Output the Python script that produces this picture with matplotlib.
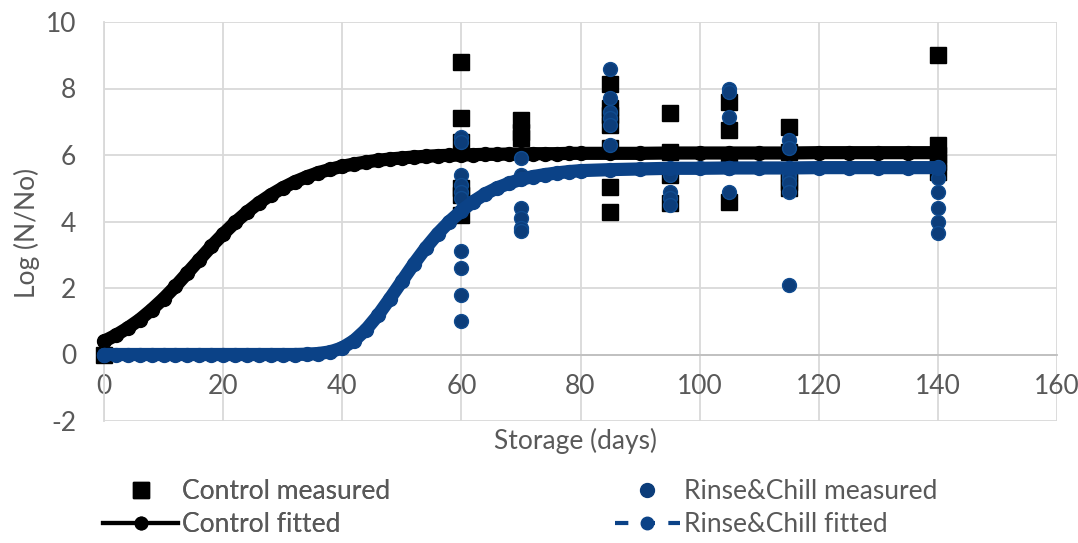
import matplotlib
matplotlib.use('Agg')
import matplotlib.pyplot as plt
from matplotlib.lines import Line2D

plt.rcParams['font.family'] = ['Lato', 'DejaVu Sans']
plt.rcParams['axes.unicode_minus'] = False

# Measured points (day, log N/No)
control_days = [0, 60, 60, 60, 60, 60, 60, 70, 70, 70, 85, 85, 85, 85, 85, 85, 85,
                95, 95, 95, 95, 105, 105, 105, 105, 115, 115, 115, 115, 115,
                140, 140, 140, 140, 140]
control_logs = [0.0, 8.8, 7.1, 6.4, 5.0, 4.8, 4.2, 7.05, 6.7, 6.5, 8.15, 7.4, 7.2, 6.9, 6.2, 5.05, 4.3,
                7.25, 6.1, 5.4, 4.55, 7.6, 6.75, 5.9, 4.6, 6.85, 6.1, 5.5, 5.2, 5.0,
                9.0, 6.3, 6.0, 5.8, 5.5]

rinse_days = [0, 60, 60, 60, 60, 60, 60, 60, 60, 60, 60,
              70, 70, 70, 70, 70, 70,
              85, 85, 85, 85, 85, 85,
              95, 95, 95, 95,
              105, 105, 105, 105, 105,
              115, 115, 115, 115, 115, 115, 115, 115,
              140, 140, 140, 140, 140, 140]
rinse_logs = [0.0, 6.55, 6.4, 5.4, 5.1, 4.9, 4.7, 3.1, 2.6, 1.8, 1.0,
              5.9, 5.4, 4.4, 4.1, 3.8, 3.7,
              8.6, 7.7, 7.3, 7.1, 6.9, 6.3,
              5.4, 4.9, 4.7, 4.5,
              8.0, 7.9, 7.15, 5.6, 4.9,
              6.45, 6.2, 5.6, 5.4, 5.3, 5.15, 4.9, 2.1,
              5.65, 5.3, 4.9, 4.4, 4.0, 3.65]

# Fitted curves
fit_days = [0, 2, 4, 6, 8, 10, 12, 14, 16, 18, 20, 22, 24, 26, 28, 30, 32, 34, 36, 38,
            40, 42, 44, 46, 48, 50, 52, 54, 56, 58, 60, 62, 64, 66, 68, 70, 72, 74, 76, 78,
            80, 85, 90, 95, 100, 105, 110, 115, 120, 125, 130, 135, 140]
control_fit = [0.40, 0.58, 0.80, 1.05, 1.35, 1.68, 2.05, 2.45, 2.85, 3.25, 3.62, 3.97, 4.28,
               4.56, 4.80, 5.01, 5.19, 5.34, 5.47, 5.57, 5.66, 5.73, 5.79, 5.84, 5.88, 5.91,
               5.94, 5.96, 5.98, 5.99, 6.00, 6.01, 6.02, 6.02, 6.03, 6.03, 6.04, 6.04, 6.04,
               6.05, 6.05, 6.05, 6.05, 6.06, 6.06, 6.06, 6.06, 6.06, 6.07, 6.07, 6.07, 6.07, 6.07]
rinse_fit = [0.0, 0.0, 0.0, 0.0, 0.0, 0.0, 0.0, 0.0, 0.0, 0.0, 0.0, 0.0, 0.0, 0.0, 0.0, 0.0,
             0.0, 0.01, 0.03, 0.08, 0.2, 0.42, 0.75, 1.18, 1.68, 2.2, 2.72, 3.2, 3.63, 4.0,
             4.32, 4.6, 4.83, 5.01, 5.15, 5.27, 5.35, 5.41, 5.46, 5.5, 5.53, 5.56, 5.58,
             5.6, 5.6, 5.61, 5.61, 5.61, 5.62, 5.62, 5.62, 5.62, 5.62]

blue = '#0c3d7a'
blue_line = '#0b4287'
grey_text = '#595959'
fs = 19

fig = plt.figure(figsize=(10.78, 5.43), dpi=100)
ax = fig.add_axes([104 / 1078, 1 - 421 / 543, 953 / 1078, 399 / 543])

ax.plot(control_days, control_logs, 's', color='black', markersize=11.5, clip_on=False, zorder=3)
ax.plot(fit_days, control_fit, '-o', color='black', lw=9.5, markersize=10,
        solid_capstyle='round', clip_on=False, zorder=4)
ax.plot(rinse_days, rinse_logs, 'o', color=blue, markeredgecolor='#104c90', markersize=10,
        clip_on=False, zorder=5)
ax.plot(fit_days, rinse_fit, '-o', color=blue_line, lw=9.5, markersize=10,
        solid_capstyle='round', clip_on=False, zorder=6)

ax.set_xlim(0, 160)
ax.set_ylim(-2, 10)
ax.set_xticks(range(0, 161, 20))
ax.set_yticks(range(-2, 11, 2))
ax.grid(True, color='#d9d9d9', lw=1.3)
ax.set_axisbelow(True)
for side in ['top', 'right']:
    ax.spines[side].set_visible(False)
ax.spines['left'].set_color('#d9d9d9')
ax.spines['left'].set_linewidth(1.3)
ax.spines['bottom'].set_position(('data', 0))
ax.spines['bottom'].set_color('#bfbfbf')
ax.spines['bottom'].set_linewidth(1.3)
ax.tick_params(axis='both', length=0, labelsize=fs, labelcolor=grey_text)
ax.tick_params(axis='y', pad=20)
ax.tick_params(axis='x', pad=14)

fig.text(576 / 1078, 1 - 441 / 543, 'Storage (days)', ha='center', va='center',
         fontsize=fs, color=grey_text)
fig.text(27 / 1078, 1 - 233 / 543, 'Log (N/No)', ha='center', va='center',
         rotation=90, fontsize=fs, color=grey_text)

# Legend
h1 = [Line2D([], [], color='black', marker='s', ls='none', markersize=11.5),
      Line2D([], [], color='black', marker='o', lw=3, markersize=9)]
h2 = [Line2D([], [], color=blue, marker='o', ls='none', markersize=10),
      Line2D([], [], color=blue_line, marker='o', lw=3, ls=(0, (3.2, 3.2)), markersize=9)]
leg1 = fig.legend(h1, ['Control measured', 'Control fitted'], loc='upper left',
                  bbox_to_anchor=(103 / 1078, 1 - 479 / 543), frameon=False, fontsize=fs,
                  handlelength=2.85, handletextpad=0.15, labelspacing=0.32, numpoints=1,
                  labelcolor=grey_text, borderaxespad=0, borderpad=0)
leg2 = fig.legend(h2, ['Rinse&Chill measured', 'Rinse&Chill fitted'], loc='upper left',
                  bbox_to_anchor=(615 / 1078, 1 - 479 / 543), frameon=False, fontsize=fs,
                  handlelength=2.45, handletextpad=0.15, labelspacing=0.32, numpoints=1,
                  labelcolor=grey_text, borderaxespad=0, borderpad=0)
fig.add_artist(leg1)

fig.savefig('out.png', dpi=100)
